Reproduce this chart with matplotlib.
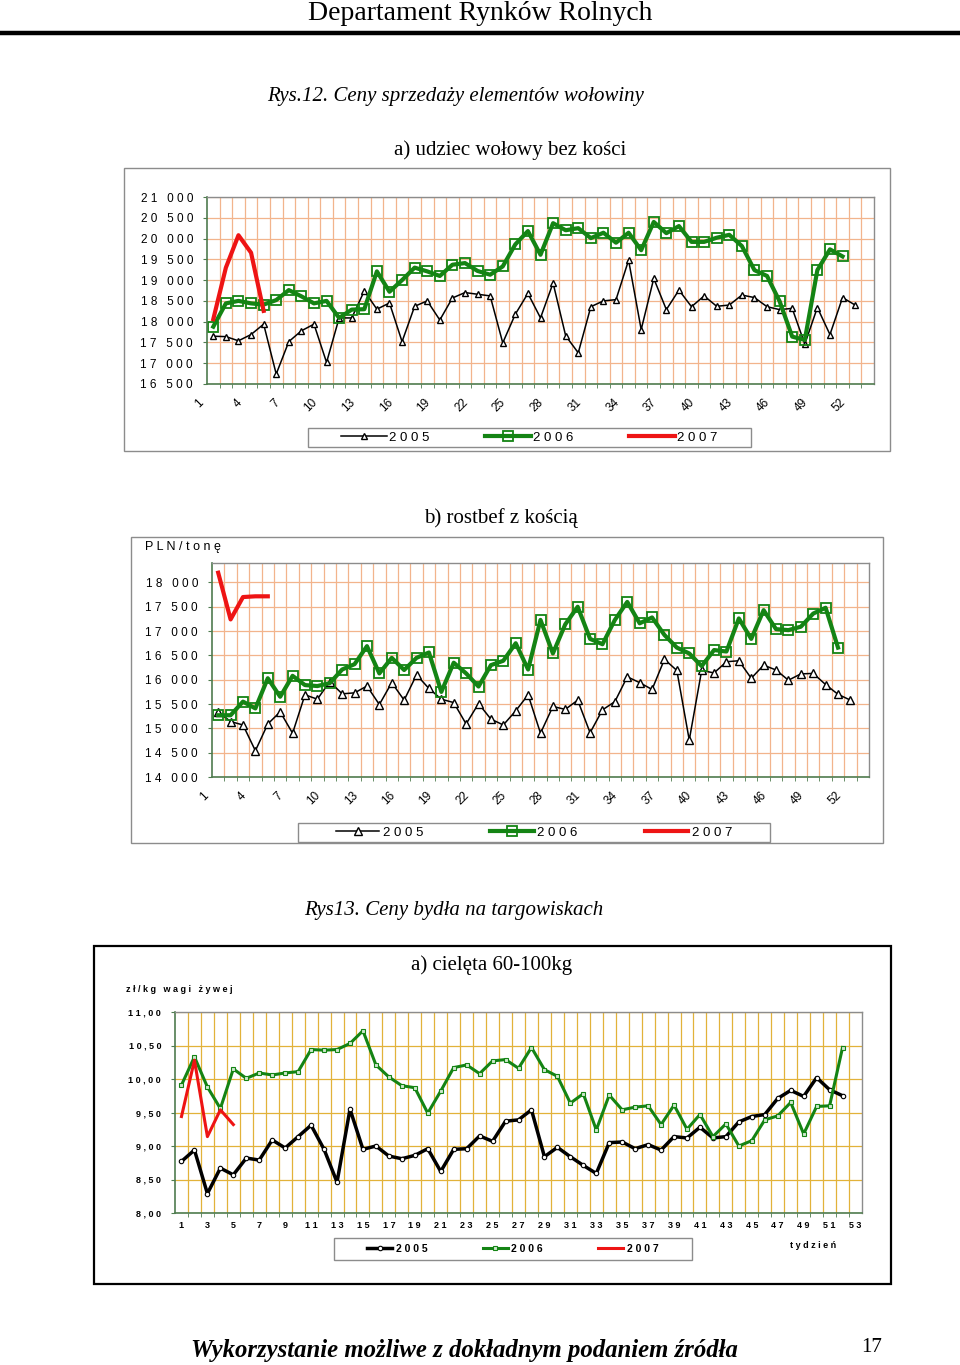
import numpy as np
import matplotlib
matplotlib.use("Agg")
import matplotlib.pyplot as plt
from matplotlib.patches import Rectangle
from matplotlib.lines import Line2D
import matplotlib.transforms as mtrans

# --- data -----------------------------------------------------------------
years = ["2005", "2006", "2007"]

# Rys.12 a) udziec wolowy bez kosci (PLN/t)
udziec_2005 = [17650, 17640, 17540, 17690, 17940, 16740, 17520, 17780, 17940, 17020,
               18090, 18090, 18740, 18300, 18450, 17520, 18370, 18500, 18040, 18570,
               18700, 18660, 18620, 17490, 18180, 18680, 18090, 18930, 17660, 17250,
               18360, 18500, 18530, 19480, 17810, 19040, 18290, 18760, 18360, 18620,
               18370, 18400, 18640, 18580, 18360, 18290, 18320, 17460, 18340, 17690,
               18580, 18400]
udziec_2006 = [17880, 18440, 18500, 18440, 18410, 18520, 18760, 18610, 18440, 18500,
               18090, 18290, 18300, 19210, 18720, 19000, 19300, 19210, 19100, 19370,
               19410, 19220, 19130, 19330, 19860, 20180, 19610, 20370, 20200, 20250,
               20010, 20140, 19900, 20140, 19720, 20400, 20130, 20300, 19920, 19920,
               20020, 20090, 19820, 19240, 19100, 18490, 17640, 17560, 19240, 19740,
               19570]
udziec_2007 = [18060, 19300, 20080, 19660, 18260]
udziec_yticks = [16500, 17000, 17500, 18000, 18500, 19000, 19500, 20000, 20500, 21000]

# Rys.12 b) rostbef z koscia (PLN/t)
rostbef_2005 = [15340, 15140, 15070, 14540, 15090, 15340, 14900, 15690, 15600, 15960,
                15710, 15730, 15870, 15490, 15940, 15580, 16100, 15820, 15600, 15530,
                15090, 15510, 15190, 15070, 15360, 15690, 14900, 15450, 15390, 15580,
                14910, 15380, 15550, 16060, 15940, 15800, 16420, 16190, 14760, 16190,
                16140, 16370, 16390, 16030, 16300, 16200, 15990, 16120, 16130, 15900,
                15700, 15580]
rostbef_2006 = [15270, 15270, 15550, 15410, 16030, 15650, 16080, 15890, 15870, 15930,
                16210, 16320, 16690, 16130, 16450, 16200, 16450, 16560, 15750, 16350,
                16130, 15860, 16300, 16390, 16750, 16210, 17230, 16540, 17140, 17500,
                16840, 16730, 17230, 17600, 17160, 17280, 16920, 16660, 16540, 16280,
                16610, 16580, 17260, 16840, 17430, 17040, 17020, 17090, 17360, 17480,
                16660]
rostbef_2007 = [18200, 17240, 17700, 17715, 17715]
rostbef_yticks = [14000, 14500, 15000, 15500, 16000, 16500, 17000, 17500, 18000]

# Rys13 a) cieleta 60-100kg (zl/kg wagi zywej)
cieleta_2005 = [8.77, 8.94, 8.29, 8.67, 8.57, 8.82, 8.79, 9.09, 8.97, 9.14,
                9.31, 8.95, 8.46, 9.55, 8.95, 9.00, 8.85, 8.81, 8.86, 8.96,
                8.62, 8.95, 8.96, 9.15, 9.07, 9.37, 9.39, 9.54, 8.84, 8.98,
                8.84, 8.71, 8.59, 9.05, 9.06, 8.96, 9.02, 8.94, 9.14, 9.12,
                9.28, 9.12, 9.14, 9.36, 9.44, 9.47, 9.71, 9.83, 9.74, 10.02,
                9.84, 9.75]
cieleta_2006 = [9.91, 10.33, 9.88, 9.56, 10.15, 10.01, 10.09, 10.06, 10.09, 10.11,
                10.44, 10.43, 10.44, 10.53, 10.72, 10.21, 10.03, 9.90, 9.87, 9.49,
                9.82, 10.17, 10.21, 10.08, 10.27, 10.29, 10.16, 10.47, 10.14, 10.04,
                9.64, 9.78, 9.24, 9.76, 9.54, 9.58, 9.60, 9.32, 9.61, 9.25,
                9.47, 9.14, 9.33, 9.00, 9.08, 9.39, 9.45, 9.65, 9.18, 9.59,
                9.60, 10.47]
cieleta_2007 = [9.44, 10.28, 9.14, 9.54, 9.32]
cieleta_yticks = [8.0, 8.5, 9.0, 9.5, 10.0, 10.5, 11.0]

n_weeks = 53

# --- style ----------------------------------------------------------------
W, H = 960, 1365
GREEN = "#148414"
RED = "#ee1414"
GRID_OR = "#f2b48c"
GRID_GOLD = "#e2b23a"
SPINE_G = "#4f7c4f"
SPINE_GR = "#8c8c8c"
SANS = ["Liberation Sans", "DejaVu Sans"]
SERIF = ["Liberation Serif", "DejaVu Serif"]

plt.rcParams["font.family"] = SANS


def fx(x):
    return x / W


def fy(y):
    return 1 - y / H


def box(x0, y0, x1, y1):
    return [fx(x0), fy(y1), (x1 - x0) / W, (y1 - y0) / H]


def spaced(s):
    return " ".join(s)


def thou(v):
    return spaced(f"{v:,}".replace(",", " "))


def frame(fig, x0, y0, x1, y1, color, lw):
    fig.add_artist(Rectangle((fx(x0), fy(y1)), (x1 - x0) / W, (y1 - y0) / H,
                             transform=fig.transFigure, fill=False,
                             edgecolor=color, linewidth=lw))


def legend_box(fig, ax, x0, y0, x1, y1, prop, handlelength, textpad, colspace, color):
    # legend frame is drawn separately so it can be wider than the entries
    frame(fig, x0, y0, x1, y1, color, 1.0)
    ax.legend(loc="center", ncol=3, frameon=False,
              bbox_to_anchor=(fx((x0 + x1) / 2), fy((y0 + y1) / 2)),
              bbox_transform=fig.transFigure, prop=prop,
              handlelength=handlelength, handletextpad=textpad,
              columnspacing=colspace, borderpad=0, borderaxespad=0)


def base_axes(fig, rect, ylim, yticks, ylabels, grid_color, label_size, bold=False):
    ax = fig.add_axes(box(*rect))
    ax.set_xlim(0.5, n_weeks + 0.5)
    ax.set_ylim(*ylim)
    ax.set_yticks(yticks)
    ax.set_yticklabels(ylabels, fontsize=label_size,
                       fontweight="bold" if bold else "normal")
    ax.set_xticks(np.arange(1.5, n_weeks, 1), minor=True)
    ax.grid(which="minor", axis="x", color=grid_color, linewidth=0.9)
    ax.grid(which="major", axis="y", color=grid_color, linewidth=0.9)
    ax.set_axisbelow(True)
    for side in ["left", "bottom"]:
        ax.spines[side].set_color(SPINE_G)
        ax.spines[side].set_linewidth(1.2)
    for side in ["top", "right"]:
        ax.spines[side].set_color(SPINE_GR)
        ax.spines[side].set_linewidth(1.0)
    ax.tick_params(axis="y", length=3, color=SPINE_G, pad=7)
    ax.tick_params(axis="x", which="minor", length=3, color=SPINE_G)
    ax.tick_params(axis="x", which="major", length=0)
    return ax


def rotated_weeks(fig, ax, ticks):
    ax.set_xticks(ticks)
    ax.set_xticklabels([str(v) for v in ticks], rotation=45, ha="right", va="top",
                       fontsize=8.5)
    ax.tick_params(axis="x", which="major", pad=9)
    shift = mtrans.ScaledTranslation(-7 / 100, 0, fig.dpi_scale_trans)
    for lbl in ax.get_xticklabels():
        lbl.set_transform(lbl.get_transform() + shift)


fig = plt.figure(figsize=(W / 100, H / 100), dpi=100)

# header
fig.text(fx(480), fy(14), "Departament Rynków Rolnych", family=SERIF,
         fontsize=20, ha="center", va="center")
fig.add_artist(Line2D([0, 1], [fy(33), fy(33)], transform=fig.transFigure,
                      color="black", linewidth=3.2))
fig.text(fx(456), fy(97), "Rys.12. Ceny sprzedaży elementów wołowiny",
         family=SERIF, style="italic", fontsize=15, ha="center", va="center")

xt = np.arange(1, n_weeks + 1, 3)

# ---- chart a) udziec -----------------------------------------------------
fig.text(fx(510), fy(150), "a) udziec wołowy bez kości", family=SERIF,
         fontsize=15, ha="center", va="center")
frame(fig, 124, 168, 890, 451, SPINE_GR, 1.0)
ax1 = base_axes(fig, (207, 197, 874, 384), (16500, 21000), udziec_yticks,
                [thou(v) for v in udziec_yticks], GRID_OR, 8.5)
ax1.plot(np.arange(1, len(udziec_2005) + 1), udziec_2005, color="black", lw=1.1,
         marker="^", ms=5, mfc="white", mec="black", mew=1.0, label=spaced(years[0]))
ax1.plot(np.arange(1, len(udziec_2006) + 1), udziec_2006, color=GREEN, lw=3,
         marker="s", ms=6.5, mfc="none", mec=GREEN, mew=1.3, label=spaced(years[1]))
ax1.plot(np.arange(1, len(udziec_2007) + 1), udziec_2007, color=RED, lw=3,
         label=spaced(years[2]))
rotated_weeks(fig, ax1, xt)
legend_box(fig, ax1, 308, 428, 751, 447, {"size": 9.5}, 3.5, 0.15, 4.2, SPINE_GR)

# ---- chart b) rostbef ----------------------------------------------------
fig.text(fx(501), fy(518), "b) rostbef z kością", family=SERIF,
         fontsize=15, ha="center", va="center")
frame(fig, 131, 537, 883, 843, SPINE_GR, 1.0)
fig.text(fx(145), fy(547), spaced("PLN/tonę"), fontsize=9, ha="left", va="center")
ax2 = base_axes(fig, (212, 563, 869, 777), (14000, 18400), rostbef_yticks,
                [thou(v) for v in rostbef_yticks], GRID_OR, 8.5)
ax2.plot(np.arange(1, len(rostbef_2005) + 1), rostbef_2005, color="black", lw=1.1,
         marker="^", ms=5.5, mfc="white", mec="black", mew=1.0, label=spaced(years[0]))
ax2.plot(np.arange(1, len(rostbef_2006) + 1), rostbef_2006, color=GREEN, lw=3,
         marker="s", ms=7, mfc="none", mec=GREEN, mew=1.3, label=spaced(years[1]))
ax2.plot(np.arange(1, len(rostbef_2007) + 1), rostbef_2007, color=RED, lw=3,
         label=spaced(years[2]))
rotated_weeks(fig, ax2, xt)
legend_box(fig, ax2, 298, 823, 770, 842, {"size": 9.5}, 3.3, 0.25, 5.1, SPINE_GR)

# ---- Rys13 cieleta -------------------------------------------------------
fig.text(fx(454), fy(910), "Rys13. Ceny bydła na targowiskach", family=SERIF,
         style="italic", fontsize=15, ha="center", va="center")
frame(fig, 94, 946, 891, 1284, "black", 1.6)
fig.text(fx(492), fy(965), "a) cielęta 60-100kg", family=SERIF,
         fontsize=15, ha="center", va="center")
fig.text(fx(126), fy(990), spaced("zł/kg") + "   " + spaced("wagi") + "   " + spaced("żywej"),
         fontsize=6.5, fontweight="bold", ha="left", va="center")
ax3 = base_axes(fig, (175, 1012, 862, 1213), (8, 11), cieleta_yticks,
                [spaced(f"{v:.2f}".replace(".", ",")) for v in cieleta_yticks],
                GRID_GOLD, 6.5, bold=True)
ax3.plot(np.arange(1, len(cieleta_2005) + 1), cieleta_2005, color="black", lw=2.5,
         marker="o", ms=3.2, mfc="white", mec="black", mew=0.8, label=spaced(years[0]))
ax3.plot(np.arange(1, len(cieleta_2006) + 1), cieleta_2006, color=GREEN, lw=2.2,
         marker="s", ms=2.6, mfc="#cfe8cf", mec=GREEN, mew=0.8, label=spaced(years[1]))
ax3.plot(np.arange(1, len(cieleta_2007) + 1), cieleta_2007, color=RED, lw=2.2,
         label=spaced(years[2]))
xt3 = np.arange(1, n_weeks + 1, 2)
ax3.set_xticks(xt3)
ax3.set_xticklabels([spaced(str(v)) for v in xt3], fontsize=6.5, fontweight="bold")
ax3.tick_params(axis="x", which="major", pad=6)
legend_box(fig, ax3, 334, 1238, 692, 1260, {"size": 7.5, "weight": "bold"},
           2.4, 0.35, 5.3, SPINE_GR)
fig.text(fx(790), fy(1246), spaced("tydzień"), fontsize=6.5, fontweight="bold",
         ha="left", va="center")

# footer
fig.text(fx(464), fy(1350), "Wykorzystanie możliwe z dokładnym podaniem źródła",
         family=SERIF, style="italic", fontweight="bold", fontsize=17.8,
         ha="center", va="center")
fig.text(fx(872), fy(1347), "17", family=SERIF, fontsize=15, ha="center", va="center")

fig.savefig("out.png", dpi=100)
